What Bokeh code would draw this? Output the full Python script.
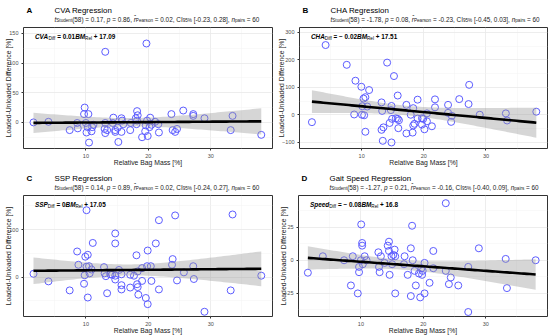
import numpy as np
from bokeh.plotting import figure
from bokeh.layouts import column, row
from bokeh.models import Label, FixedTicker
from bokeh.embed import file_html
from bokeh.resources import INLINE

# ---------------- data ----------------
x_cva = [1.6, 4.0, 7.4, 8.7, 8.6, 9.8, 9.7, 10.4, 10.0, 10.1, 10.3, 10.5, 10.9, 11.2, 13.1, 13.0, 13.1, 13.4,
         14.4, 14.7, 14.7, 15.1, 15.2, 15.7, 15.7, 17.1, 17.2, 18.0, 18.2, 18.3, 18.1, 19.0, 19.7, 19.6, 19.5,
         19.9, 20.3, 20.5, 21.1, 21.7, 21.6, 23.7, 23.9, 24.3, 24.6, 25.6, 27.2, 27.2, 29.0, 33.2, 33.5, 38.1,
         14.3, 15.8, 19.8, 13.1, 18.2, 16.0, 11.0, 20.2]
y_cva = [0, 1, -13, -10, -1, 25, 14, 14, -1, -17, -8, -34, -15, -4, 119, -11, -18, -13,
         8, -13, -16, -9, -33, 7, -16, -13, -1, 7, 19, 12, -3, -25, 133, -5, -15,
         -23, 8, -4, 1, -17, -3, 14, -13, -16, -11, 20, 14, 11, 7, -13, 11, -21,
         -1, 3, 3, -1, 3, -3, -8, -8]

x_cha = [2.0, 4.2, 7.6, 9.0, 9.95, 8.8, 10.05, 10.4, 10.3, 10.6, 10.1, 11.2, 10.9, 10.6, 13.2, 13.3, 13.2, 13.4,
         13.5, 14.1, 14.8, 14.7, 14.5, 14.8, 15.2, 15.5, 15.8, 15.8, 15.9, 17.2, 17.2, 17.9, 18.3, 18.3, 18.2,
         18.5, 19.0, 19.0, 19.7, 19.7, 20.1, 20.5, 20.5, 21.3, 21.8, 21.8, 23.9, 23.9, 24.4, 24.5, 25.7, 27.3,
         27.2, 29.0, 33.2, 33.4, 38.1, 14.9, 19.9, 16.0]
y_cha = [-27, 254, 182, 124, 102, 1, 0, -2, 59, 64, 31, 90, 30, -62, 45, 14, -55, -95,
         -46, 190, 32, 17, -30, -101, 141, -13, 70, -15, -49, 36, -68, 0, 24, -39, -65,
         -33, 55, -14, -13, -36, -53, -24, 5, -42, 56, 27, 36, 7, -26, -4, 57, 109,
         39, 0, 5, -21, 11, -15, -15, -20]

x_ssp = [1.6, 4.0, 7.4, 8.6, 8.8, 9.8, 9.7, 9.9, 10.1, 10.3, 10.3, 10.1, 10.5, 10.6, 10.9, 11.1, 12.9, 13.0,
         13.2, 13.4, 13.9, 14.7, 14.7, 14.7, 14.7, 15.3, 15.7, 15.7, 15.7, 17.1, 17.1, 17.7, 18.1, 18.2, 18.3,
         18.4, 18.3, 19.0, 19.0, 19.6, 19.9, 19.9, 19.8, 20.4, 20.5, 21.2, 21.7, 21.7, 23.8, 23.9, 24.3, 24.6,
         25.7, 27.2, 27.3, 29.0, 33.2, 33.5, 38.1, 14.2]
y_ssp = [7, -9, -28, 54, 26, 4, -14, 43, 22, 47, -43, 141, 23, 8, 16, 72, 21, 8,
         2, -34, 6, 3, 92, 71, -5, 15, 6, -17, -26, 5, -22, 3, 46, -15, -21,
         -37, 12, -8, 19, -44, 56, -57, 23, 23, -8, 71, 120, -26, 26, 38, 130, -7,
         10, 23, -4, -73, -28, 132, 3, 5]

x_spd = [1.5, 3.9, 7.3, 8.4, 8.7, 9.5, 9.7, 9.7, 10.05, 10.0, 10.2, 10.2, 10.3, 10.6, 10.9, 12.8, 12.9, 13.0,
         13.2, 13.8, 14.3, 14.5, 14.5, 14.6, 14.9, 15.0, 15.4, 15.5, 15.5, 17.0, 16.9, 17.5, 18.0, 18.0, 18.2,
         18.3, 18.6, 18.8, 19.3, 19.5, 19.7, 19.8, 20.2, 20.2, 21.0, 21.6, 21.6, 23.6, 23.6, 24.1, 24.4, 25.6,
         27.2, 27.2, 28.9, 33.2, 33.4, 38.0, 15.2, 19.9]
y_spd = [-9.4, 3, 0, -19, 3, -25, -5, -9, 27, 0, 13, 11, -3, 3, 0, 6, -5, -9,
         3, -2, 11, 14, 7, -11, 3, -3, 8, -25, 3, 3, -3, -11, 9, -27, 26,
         0, -8, -19, -10, -28, -6, -11, -25, -2, -17, 7, -6, 43, -8, -18, -13, -19,
         -5, -39, 9, 1, -21, 0, 4, -8]

titles = ["CVA Regression", "CHA Regression", "SSP Regression", "Gait Speed Regression"]
letters = ["A", "B", "C", "D"]
t_vals = ["0.17", "-1.78", "0.14", "-1.27"]
p_vals = ["0.86", "0.08", "0.89", "0.21"]
r_vals = ["0.02", "-0.23", "0.02", "-0.16"]
ci_vals = ["[-0.23, 0.28]", "[-0.45, 0.03]", "[-0.24, 0.27]", "[-0.40, 0.09]"]
eq_names = ["CVA", "CHA", "SSP", "Speed"]
eq_slopes = ["0.01", "\u2212 0.02", "0", "\u2212 0.08"]
eq_icpts = ["17.09", "17.51", "17.05", "16.8"]
x_label = "Relative Bag Mass [%]"
y_label = "Loaded-Unloaded Difference [%]"
x_ticks = [10, 20, 30]
x_minor = [5, 15, 25, 35]
y_ranges = [(-44, 160), (-123, 318), (-83, 172), (-42.4, 48.8)]
y_ticks = [[0, 50, 100, 150], [-100, 0, 100, 200, 300], [0, 100], [-25, 0, 25]]
y_minor = [[-25, 25, 75, 125], [-50, 50, 150, 250], [-50, 50, 150], [-37.5, -12.5, 12.5, 37.5]]
xs_all = [x_cva, x_cha, x_ssp, x_spd]
ys_all = [y_cva, y_cha, y_ssp, y_spd]

# ---------------- text metrics (Liberation Sans, per 1000 em) ----------------
NB = "\u00a0"
REG = {' ': 278, NB: 278, '(': 333, ')': 333, ',': 278, '-': 333, '.': 278, '=': 584, '+': 584, '[': 278,
       ']': 278, '%': 889, '\u2212': 584, 'A': 667, 'B': 667, 'C': 722, 'D': 722, 'H': 722, 'I': 278,
       'M': 833, 'P': 667, 'R': 722, 'S': 667, 'V': 667, 'a': 556, 'd': 556, 'e': 556, 'f': 278, 'i': 222,
       'l': 222, 'n': 556, 'o': 556, 'p': 556, 'r': 333, 's': 500, 't': 278, 'u': 556, '\u0302': 0}
BOLD = dict(REG)
BOLD.update({'A': 722, 'B': 722, 'd': 611, 'p': 611, 'f': 333, 'i': 278, 'l': 278, 'r': 389, 's': 556, 't': 333})
for c in "0123456789":
    REG[c] = 556
    BOLD[c] = 556


def tw(text, size, bold):
    tab = BOLD if bold else REG
    return sum(tab.get(c, 556) for c in text) * size / 1000.0


FONT = "Liberation Sans"


def rich(p, segs, x0, y0, size, color="#1a1a1a"):
    x = x0
    for text, style, sub in segs:
        text = text.replace(" ", NB)
        s = size * 0.72 if sub else size
        dy = -size * 0.28 if sub else 0
        p.add_layout(Label(x=x, y=y0 + dy, x_units="screen", y_units="screen", text=text,
                           text_font=FONT, text_font_size=f"{s:.2f}px", text_font_style=style,
                           text_color=color, text_baseline="alphabetic", text_align="left"))
        x += tw(text, s, "bold" in style)


def fit_band(x, y):
    x = np.asarray(x, float)
    y = np.asarray(y, float)
    n = len(x)
    b, a = np.polyfit(x, y, 1)
    xs = np.linspace(x.min(), x.max(), 80)
    yhat = a + b * xs
    resid = y - (a + b * x)
    s = np.sqrt(np.sum(resid ** 2) / (n - 2))
    sxx = np.sum((x - x.mean()) ** 2)
    se = s * np.sqrt(1.0 / n + (xs - x.mean()) ** 2 / sxx)
    t = 2.0017
    return xs, yhat, yhat - t * se, yhat + t * se


def blank(w, h):
    f = figure(width=w, height=h, x_range=(0, 1), y_range=(0, 1), output_backend="svg",
               toolbar_location=None, x_axis_type=None, y_axis_type=None,
               min_border=0, min_border_left=0, min_border_right=0, min_border_top=0, min_border_bottom=0,
               border_fill_color="white", background_fill_color="white")
    f.outline_line_color = None
    f.grid.visible = False
    return f


PW, PH = 275, 168
HH = 25            # header height
FHT = PH - HH      # plot figure height
TOP, BOT, LEFT, RIGHT = 2, 18, 23, 3
FRAME_H = FHT - TOP - BOT
TITLE_X = 31

panels = []
for i in range(4):
    # header: letter, title, subtitle
    hdr = blank(PW, HH)
    hdr.add_layout(Label(x=3, y=HH - 9.5, x_units="screen", y_units="screen", text=letters[i],
                         text_font=FONT, text_font_size="8px", text_font_style="bold",
                         text_color="black", text_baseline="alphabetic"))
    hdr.add_layout(Label(x=TITLE_X, y=HH - 9.5, x_units="screen", y_units="screen", text=titles[i],
                         text_font=FONT, text_font_size="7.9px", text_font_style="normal",
                         text_color="black", text_baseline="alphabetic"))
    sub = [("t", "italic", False), ("Student", "normal", True),
           (f"(58) = {t_vals[i]}, ", "normal", False), ("p", "italic", False),
           (f" = {p_vals[i]}, ", "normal", False), ("r\u0302", "italic", False),
           ("Pearson", "normal", True), (f" = {r_vals[i]}, CI", "normal", False),
           ("95%", "normal", True), (f" {ci_vals[i]}, ", "normal", False),
           ("n", "italic", False), ("pairs", "normal", True), (" = 60", "normal", False)]
    rich(hdr, sub, TITLE_X, HH - 18.5, 6.4)

    # the plot
    p = figure(width=PW, height=FHT, x_range=(0, 39.9), y_range=y_ranges[i], output_backend="svg",
               toolbar_location=None, min_border_left=LEFT, min_border_right=RIGHT,
               min_border_top=TOP, min_border_bottom=BOT, background_fill_color="white",
               border_fill_color="white")
    p.outline_line_color = "#333333"
    p.outline_line_width = 1
    p.xaxis.ticker = FixedTicker(ticks=x_ticks, minor_ticks=x_minor)
    p.yaxis.ticker = FixedTicker(ticks=y_ticks[i], minor_ticks=y_minor[i])
    p.xaxis.axis_label = x_label
    p.yaxis.axis_label = y_label
    for ax in (p.xaxis[0], p.yaxis[0]):
        ax.axis_line_color = None
        ax.major_tick_line_color = "#333333"
        ax.major_tick_in = 0
        ax.major_tick_out = 2
        ax.minor_tick_line_color = None
        ax.major_label_text_font = FONT
        ax.major_label_text_font_size = "5.5px"
        ax.major_label_text_color = "#4d4d4d"
        ax.major_label_standoff = 1
        ax.axis_label_text_font = FONT
        ax.axis_label_text_font_size = "6.8px"
        ax.axis_label_text_font_style = "normal"
        ax.axis_label_text_color = "#1a1a1a"
    p.xaxis.axis_label_standoff = -2
    p.yaxis.axis_label_standoff = -6
    p.grid.grid_line_color = "#e8e8e8"
    p.grid.grid_line_width = 0.8
    p.grid.minor_grid_line_color = "#f2f2f2"
    p.grid.minor_grid_line_width = 0.5

    x = xs_all[i]
    y = ys_all[i]
    p.scatter(x, y, size=7, marker="circle", fill_color=None, line_color="#5c5cff", line_width=1)
    fx, fy, flo, fhi = fit_band(x, y)
    p.varea(x=fx, y1=flo, y2=fhi, fill_color="#999999", fill_alpha=0.4)
    p.line(fx, fy, line_color="black", line_width=2.6)

    eq = [(eq_names[i], "bold italic", False), ("Diff", "normal", True),
          (f" = {eq_slopes[i]}", "bold", False), ("BM", "bold italic", False),
          ("Rel", "normal", True), (f" + {eq_icpts[i]}", "bold", False)]
    rich(p, eq, 11.5, FRAME_H - 11, 6.4, color="black")

    panels.append(column(hdr, p, spacing=0))

layout = column(row(panels[0], panels[1], spacing=0), row(panels[2], panels[3], spacing=0), spacing=0)
open("out.html", "w").write(file_html(layout, INLINE))
